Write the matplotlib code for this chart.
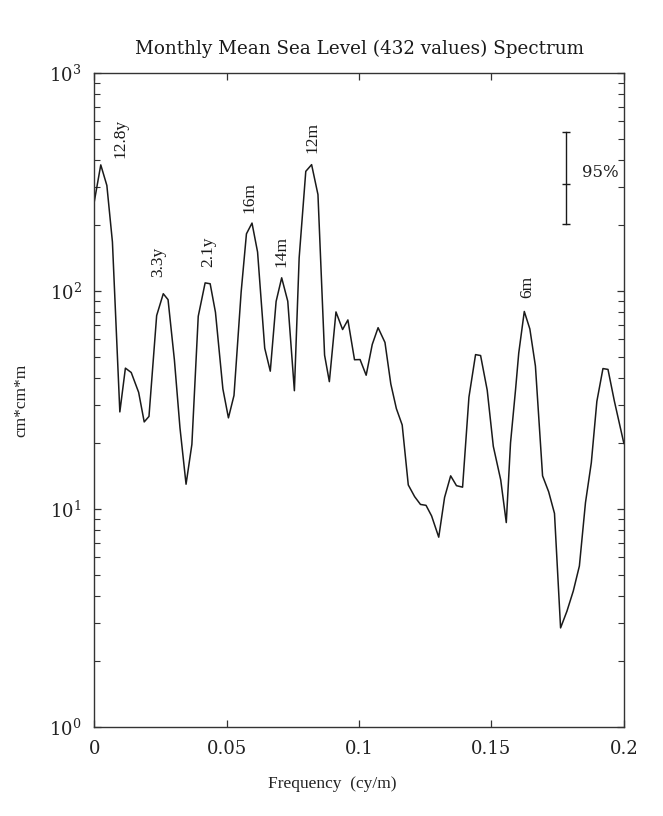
import matplotlib
matplotlib.use("Agg")
import matplotlib.pyplot as plt
from matplotlib.ticker import LogLocator, FixedLocator, NullFormatter

plt.rcParams['font.family'] = ['DejaVu Serif']
plt.rcParams['mathtext.fontset'] = 'dejavuserif'

# ---- data ----
freq = [0.0, 0.0025, 0.0048, 0.0069, 0.0097, 0.0118, 0.0140, 0.0168, 0.0189, 0.0207,
        0.0236, 0.0261, 0.0279, 0.0303, 0.0324, 0.0347, 0.0369, 0.0393, 0.0419, 0.0438,
        0.0458, 0.0486, 0.0507, 0.0528, 0.0555, 0.0575, 0.0596, 0.0617, 0.0644, 0.0665,
        0.0687, 0.0708, 0.0731, 0.0756, 0.0774, 0.0799, 0.0821, 0.0845, 0.0870, 0.0888,
        0.0913, 0.0938, 0.0958, 0.0983, 0.1004, 0.1027, 0.1050, 0.1072, 0.1098, 0.1120,
        0.1141, 0.1163, 0.1186, 0.1210, 0.1232, 0.1253, 0.1274, 0.1301, 0.1323, 0.1346,
        0.1368, 0.1391, 0.1415, 0.1440, 0.1459, 0.1484, 0.1507, 0.1535, 0.1556, 0.1572,
        0.1591, 0.1603, 0.1624, 0.1645, 0.1666, 0.1693, 0.1716, 0.1738, 0.1761, 0.1785,
        0.1809, 0.1832, 0.1855, 0.1877, 0.1898, 0.1921, 0.1940, 0.1964, 0.2000]
power = [255, 379, 305, 168, 27.9, 44.3, 42.3, 34.3, 25.1, 26.6,
         77.2, 97.2, 91.3, 48.3, 23.6, 13.0, 19.8, 76.6, 109, 108,
         79.9, 35.6, 26.2, 33.2, 99, 183, 205, 151, 54.7, 42.9,
         89.6, 115, 89.8, 34.9, 142, 354, 380, 277, 50.8, 38.4,
         80.2, 66.6, 73.7, 48.4, 48.5, 41.1, 56.9, 67.9, 58.1, 37.5,
         28.9, 24.3, 12.9, 11.4, 10.5, 10.4, 9.3, 7.43, 11.3, 14.2,
         12.8, 12.6, 32.6, 51.1, 50.6, 35.1, 19.4, 13.6, 8.67, 20.1,
         35.3, 51.9, 80.6, 67.0, 45.3, 14.2, 12.0, 9.55, 2.85, 3.40,
         4.21, 5.48, 10.7, 16.3, 31.2, 44.1, 43.7, 31.3, 20.0]

peak_labels = ["12.8y", "3.3y", "2.1y", "16m", "14m", "12m", "6m"]
peak_label_x = [0.0101, 0.0242, 0.0429, 0.0588, 0.0709, 0.0825, 0.1635]
peak_label_y = [499, 136, 151, 267, 152, 508, 104]

ci_x = 0.178
ci_low, ci_mid, ci_high = 204, 311, 535

xticks = [0, 0.05, 0.1, 0.15, 0.2]
xticklabels = ["0", "0.05", "0.1", "0.15", "0.2"]

# ---- figure ----
fig = plt.figure(figsize=(6.63, 8.16), dpi=100)
ax = fig.add_axes([0.142, 0.109, 0.799, 0.8015])

ax.plot(freq, power, color='#1a1a1a', lw=1.1)
ax.set_yscale('log')
ax.set_xlim(0, 0.2)
ax.set_ylim(1, 1000)

ax.xaxis.set_major_locator(FixedLocator(xticks))
ax.set_xticklabels(xticklabels)
ax.yaxis.set_major_locator(LogLocator(base=10, numticks=10))
ax.yaxis.set_minor_locator(LogLocator(base=10, subs=range(2, 10), numticks=10))
ax.yaxis.set_minor_formatter(NullFormatter())

ax.tick_params(which='both', direction='in', top=True, right=True, color='#333333')
ax.tick_params(which='major', length=5, width=0.9, labelsize=13, pad=9,
               labelcolor='#222222')
ax.tick_params(which='minor', length=4.5, width=0.8)
for s in ax.spines.values():
    s.set_linewidth(1.0)
    s.set_color('#333333')

# peak annotations
for lab, x, y in zip(peak_labels, peak_label_x, peak_label_y):
    ax.text(x, y, lab, rotation=90, ha='center', va='center',
            fontsize=12.5, family='Liberation Serif', color='#1a1a1a')

# 95% confidence bar
ax.plot([ci_x, ci_x], [ci_low, ci_high], color='#1a1a1a', lw=1.0)
ax.plot([ci_x] * 3, [ci_low, ci_mid, ci_high], ls='none', marker='_',
        ms=6, mew=1.0, color='#1a1a1a')
ax.text(ci_x + 0.006, 350, "95%", ha='left', va='center', fontsize=12,
        family='DejaVu Serif', color='#222222')

ax.set_title("Monthly Mean Sea Level (432 values) Spectrum", fontsize=13.2,
             pad=14, color='#1a1a1a')
ax.set_xlabel("Frequency  (cy/m)", fontsize=12.5, family='Liberation Serif',
              labelpad=14, color='#222222')
ax.xaxis.set_label_coords(0.45, -0.075)
ax.set_ylabel("cm*cm*m", fontsize=12.5, family='Liberation Serif',
              labelpad=14, color='#222222')

fig.savefig("out.png", dpi=100)
